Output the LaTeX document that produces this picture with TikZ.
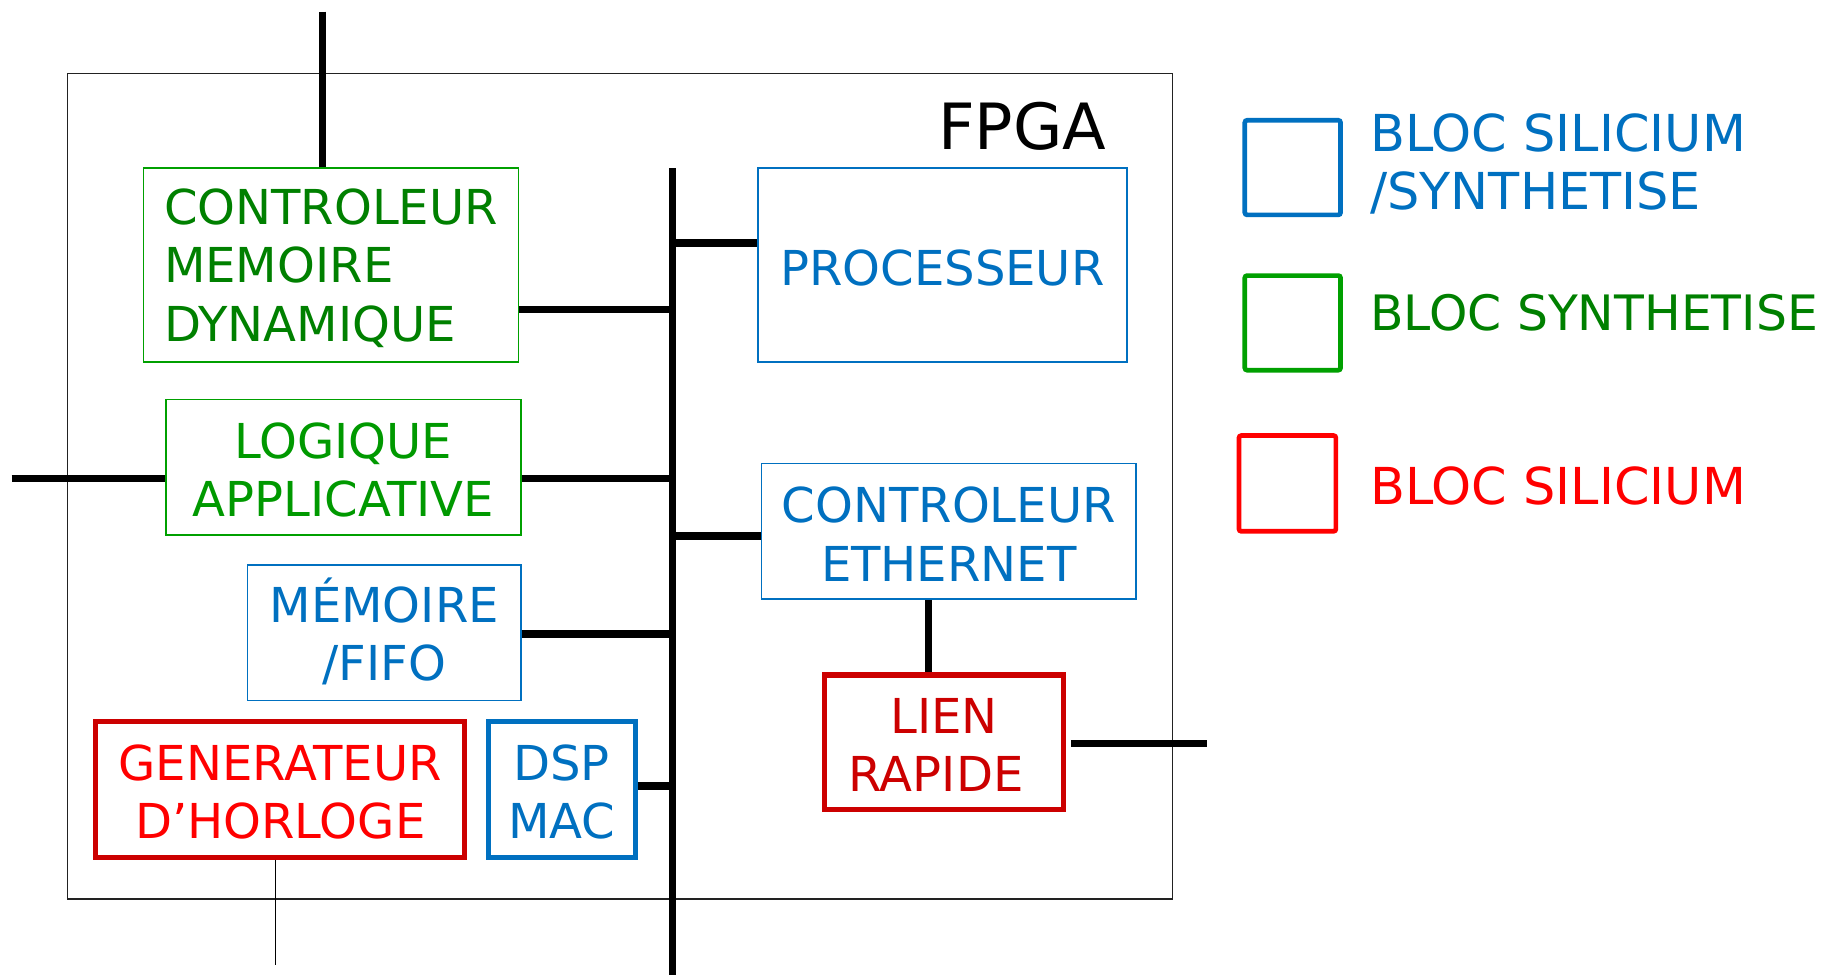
\documentclass[tikz,border=0pt]{standalone}
\usepackage{fontspec}
\setmainfont{DejaVu Sans}
\usetikzlibrary{calc}
\definecolor{cblue}{HTML}{0070C0}
\definecolor{cgreenD}{HTML}{008000}
\definecolor{cgreenL}{HTML}{009900}
\definecolor{cgreenB}{HTML}{00A000}
\definecolor{cred}{HTML}{FF0000}
\definecolor{cdred}{HTML}{CC0000}
\definecolor{cframe}{HTML}{222222}
\begin{document}
\begin{tikzpicture}[x=0.5pt,y=-0.5pt,
  txt/.style={font=\fontsize{20.6}{25}\selectfont, align=center, inner sep=0pt},
  btxt/.style={txt, yshift=-1.2pt},
  legtxt/.style={font=\fontsize{21.8}{24.5}\selectfont, align=left, inner sep=0pt, anchor=west},
  thinbox/.style={draw, rectangle, line width=0.7pt, inner sep=0pt},
  thickbox/.style={draw, rectangle, line width=2.2pt, inner sep=0pt},
  legbox/.style={draw, rectangle, line width=2pt, rounded corners=1pt, inner sep=0pt},
  bus/.style={line width=3.1pt, line cap=butt},
  fine/.style={line width=0.6pt}]
\useasboundingbox (0,0) rectangle (1568,835);

% FPGA frame
\node[draw=cframe, line width=0.65pt, minimum width=473pt, minimum height=353.5pt, inner sep=0pt] (fpga) at (531,416.5) {};
\node[font=\fontsize{27.3}{32}\selectfont, anchor=base west, inner sep=0pt] (fpgalbl) at (803,128) {FPGA};

% blocks
\node[thinbox, draw=cgreenB, minimum width=160.5pt, minimum height=83pt] (cmd) at (283.5,227) {};
\node[btxt, text=cgreenD, align=left] (cmdt) at (cmd.center) {CONTROLEUR\\MEMOIRE\\DYNAMIQUE};
\node[thinbox, draw=cblue, minimum width=158pt, minimum height=83pt] (proc) at (807,227) {};
\node[btxt, text=cblue] (proct) at (proc.center) {PROCESSEUR};
\node[thinbox, draw=cgreenB, minimum width=152pt, minimum height=58pt] (la) at (294,400) {};
\node[btxt, text=cgreenL] (lat) at (la.center) {LOGIQUE\\APPLICATIVE};
\node[thinbox, draw=cblue, minimum width=160.5pt, minimum height=58pt] (eth) at (812.5,455) {};
\node[btxt, text=cblue] (etht) at (eth.center) {CONTROLEUR\\ETHERNET};
\node[thinbox, draw=cblue, minimum width=117pt, minimum height=58pt] (mem) at (329,542) {};
\node[btxt, text=cblue] (memt) at (mem.center) {M\smash{É}MOIRE\\/FIFO};
\node[thickbox, draw=cdred, minimum width=158pt, minimum height=58pt] (gen) at (240,676) {};
\node[btxt, text=cred] (gent) at (gen.center) {GENERATEUR\\D’HORLOGE};
\node[thickbox, draw=cblue, minimum width=63pt, minimum height=58pt] (dsp) at (481,676) {};
\node[btxt, text=cblue] (dspt) at (dsp.center) {DSP\\MAC};
\node[thickbox, draw=cdred, minimum width=102.5pt, minimum height=57.5pt] (lien) at (808.5,635.5) {};
\node[btxt, text=cdred] (lient) at (lien.center) {LIEN\\RAPIDE\kern7pt};

% legend
\node[legbox, draw=cblue, minimum width=41pt, minimum height=40.5pt] (lgb) at (1107,143.5) {};
\node[legbox, draw=cgreenB, minimum width=41pt, minimum height=40.5pt] (lgg) at (1107,276.5) {};
\node[legbox, draw=cred, minimum width=41.5pt, minimum height=41pt] (lgr) at (1102.5,414) {};
\node[legtxt, text=cblue] (lgbt) at (1173,140.5) {BLOC SILICIUM\\/SYNTHETISE};
\node[legtxt, text=cgreenD, font=\fontsize{20.9}{24.5}\selectfont] (lggt) at (1173,268) {BLOC SYNTHETISE};
\node[legtxt, text=cred] (lgrt) at (1173,416) {BLOC SILICIUM};

% bus and connectors
\coordinate (bustop) at (576,144);
\coordinate (busbot) at (576,835);
\draw[bus] (bustop) -- (busbot);
\coordinate (tcmd) at (576,265);
\draw[bus] (cmd.east |- tcmd) -- (tcmd);
\coordinate (tproc) at (576,208);
\draw[bus] (tproc) -- (proc.west |- tproc);
\coordinate (tla) at (576,410);
\draw[bus] (la.east |- tla) -- (tla);
\coordinate (tin) at (10,410);
\draw[bus] (tin) -- (la.west |- tin);
\coordinate (teth) at (576,459);
\draw[bus] (teth) -- (eth.west |- teth);
\coordinate (tmem) at (576,543);
\draw[bus] (mem.east |- tmem) -- (tmem);
\coordinate (tdsp) at (576,673);
\draw[bus] (dsp.east |- tdsp) -- (tdsp);
\coordinate (ttop) at (276,10);
\draw[bus] (ttop) -- (cmd.north -| ttop);
\coordinate (tx) at (795,0);
\draw[bus] (eth.south -| tx) -- (lien.north -| tx);
\coordinate (tout) at (1034,637);
\draw[bus] ($(lien.east |- tout)+(4,0)$) -- (tout);
\coordinate (tclk) at (236,826);
\draw[fine] (gen.south -| tclk) -- (tclk);
\end{tikzpicture}
\end{document}
